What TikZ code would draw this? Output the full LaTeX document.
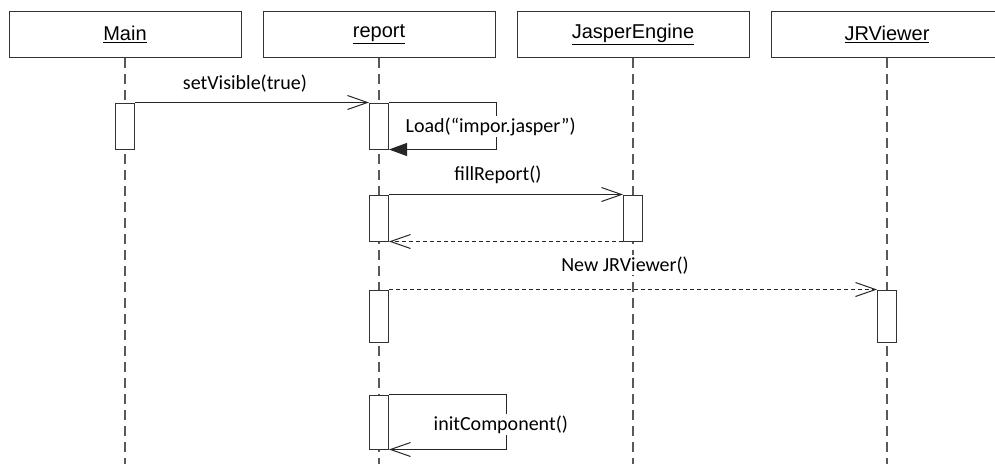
\documentclass[tikz,border=0pt]{standalone}
\usepackage{fontspec}
\setmainfont{Carlito}
\newfontfamily\hdrfont{Liberation Sans}
\usetikzlibrary{arrows.meta}
\begin{document}
\begin{tikzpicture}[x=1pt,y=-1pt,
  hdr/.style={draw=black!80, line width=1pt, minimum width=232pt, minimum height=46pt, inner sep=0pt, font=\hdrfont\fontsize{20}{24}\selectfont},
  act/.style={draw=black!80, fill=white, line width=1pt, minimum width=19pt, inner sep=0pt},
  life/.style={draw=black!65, line width=1.2pt, dash pattern=on 10pt off 6pt},
  msg/.style={draw=black!85, line width=1pt},
  ret/.style={msg, dash pattern=on 4pt off 3pt},
  openhead/.style={-{Straight Barb[length=20pt,width=14pt]}},
  fullhead/.style={-{Triangle[length=18pt,width=13pt]}},
  lbl/.style={fill=white, inner sep=1.5pt, font=\fontsize{20}{24}\selectfont}
]
\clip (0,0) rectangle (995,464);
\coordinate (bot) at (0,464);
% headers
\node[hdr] (main) at (125,34) {\underline{Main}};
\node[hdr] (report) at (379,34) {\underline{report}};
\node[hdr] (jasper) at (633,34) {\underline{JasperEngine}};
\node[hdr] (viewer) at (887,34) {\underline{JRViewer}};
% lifelines
\draw[life] (main.south) -- (main.south |- bot);
\draw[life] (report.south) -- (report.south |- bot);
\draw[life] (jasper.south) -- (jasper.south |- bot);
\draw[life] (viewer.south) -- (viewer.south |- bot);
% activations
\node[act, minimum height=46pt] (mainA) at (125,126) {};
\node[act, minimum height=46pt] (repA) at (379,126) {};
\node[act, minimum height=46pt] (repB) at (379,218) {};
\node[act, minimum height=46pt] (jasA) at (633,218) {};
\node[act, minimum height=52pt] (repC) at (379,316) {};
\node[act, minimum height=52pt] (viewA) at (887,316) {};
\node[act, minimum height=54pt] (repD) at (379,422) {};
% messages
\draw[msg, openhead] (mainA.north east) -- (repA.north west);
\draw[msg, fullhead] (repA.north east) -- ++(107,0) |- (repA.south east);
\draw[msg, openhead] (repB.north east) -- (jasA.north west);
\draw[ret, openhead] (jasA.south west) -- (repB.south east);
\draw[ret, openhead] (repC.north east) -- (viewA.north west);
\draw[msg, openhead] (repD.north east) -- ++(117,0) |- (repD.south east);
% labels
\node[lbl, anchor=base] (l1) at (245,89) {setVisible(true)};
\node[lbl, anchor=base west] (l2) at (404,132) {Load(“impor.jasper”)};
\node[lbl, anchor=base] (l3) at (498,180) {fillReport()};
\node[lbl, anchor=base] (l4) at (625,271) {New JRViewer()};
\node[lbl, anchor=base west] (l5) at (432,430) {initComponent()};
\end{tikzpicture}
\end{document}
